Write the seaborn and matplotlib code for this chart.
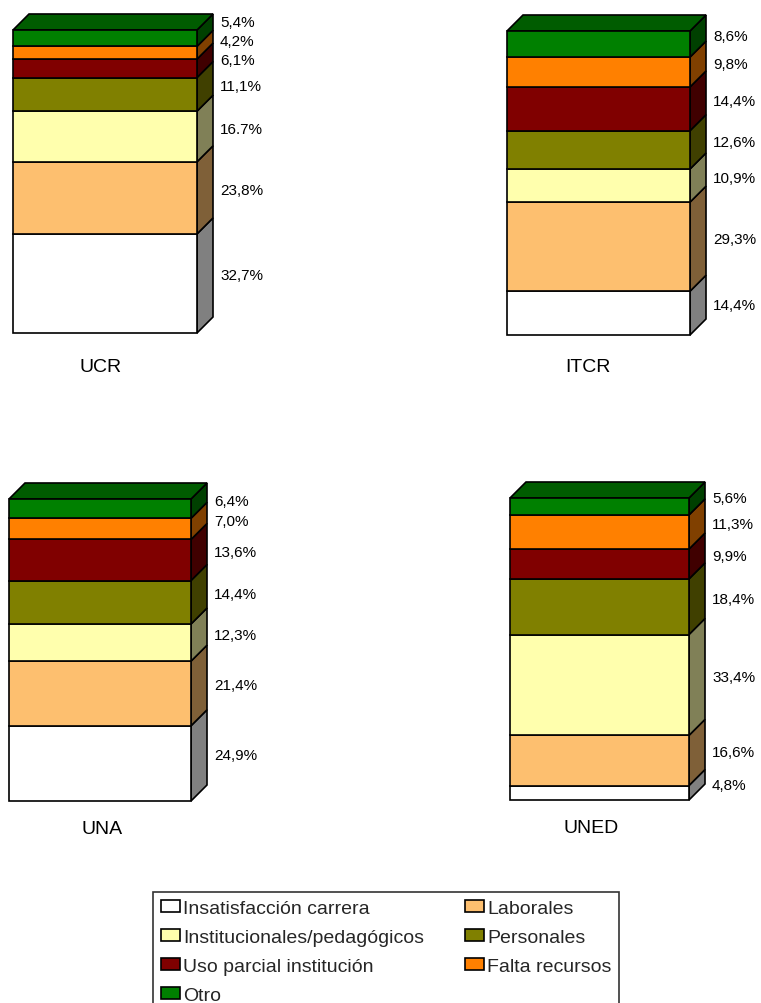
import numpy as np
import matplotlib
matplotlib.use("Agg")
import matplotlib.pyplot as plt
import matplotlib.colors as mcolors
from matplotlib.patches import Polygon, Patch
import seaborn as sns

# ── Data ────────────────────────────────────────────────────
categories = ["Insatisfacción carrera", "Laborales", "Institucionales/pedagógicos",
              "Personales", "Uso parcial institución", "Falta recursos", "Otro"]
colors = ["#FFFFFF", "#FDBF6F", "#FFFFAD", "#808000", "#800000", "#FF8000", "#008000"]

universities = ["UCR", "ITCR", "UNA", "UNED"]
ucr = [32.7, 23.8, 16.7, 11.1, 6.1, 4.2, 5.4]
itcr = [14.4, 29.3, 10.9, 12.6, 14.4, 9.8, 8.6]
una = [24.9, 21.4, 12.3, 14.4, 13.6, 7.0, 6.4]
uned = [4.8, 16.6, 33.4, 18.4, 9.9, 11.3, 5.6]

ucr_labels = ["32,7%", "23,8%", "16.7%", "11,1%", "6,1%", "4,2%", "5,4%"]
itcr_labels = ["14,4%", "29,3%", "10,9%", "12,6%", "14,4%", "9,8%", "8,6%"]
una_labels = ["24,9%", "21,4%", "12,3%", "14,4%", "13,6%", "7,0%", "6,4%"]
uned_labels = ["4,8%", "16,6%", "33,4%", "18,4%", "9,9%", "11,3%", "5,6%"]

# ── Style ───────────────────────────────────────────────────
sns.set_style("white")
plt.rcParams["font.family"] = ["Liberation Sans", "DejaVu Sans"]

W, H = 761, 1004
fig = plt.figure(figsize=(W / 100, H / 100), dpi=100)

# panel rects in pixels: left, top, width, height (front face of bar)
panels = {
    "UCR": (13, 31, 184, 303),
    "ITCR": (507, 32, 183, 304),
    "UNA": (9, 500, 182, 302),
    "UNED": (510, 499, 179, 302),
}
# name label offset from bar bottom-centre, px (x, below)
name_off = {"UCR": (-4, 34), "ITCR": (-11, 32), "UNA": (2, 28), "UNED": (-8, 28)}
series = {"UCR": (ucr, ucr_labels), "ITCR": (itcr, itcr_labels),
          "UNA": (una, una_labels), "UNED": (uned, uned_labels)}

DEPTH = 16   # px
GAP = 19     # min px between value labels
LW = 1.2


def shade(c, f):
    r, g, b = mcolors.to_rgb(c)
    return (r * f, g * f, b * f)


for name in universities:
    left, top, w, h = panels[name]
    vals, labs = series[name]
    ax = fig.add_axes([left / W, 1 - (top + h) / H, w / W, h / H])
    ax.set_xlim(0, 1)
    ax.set_ylim(0, 100)
    ax.axis("off")

    dx = DEPTH / w
    ppp = h / 100.0          # px per percent
    dy = DEPTH / ppp

    bottoms = np.concatenate([[0], np.cumsum(vals)[:-1]])
    ax.bar(0.5, vals, width=1.0, bottom=bottoms, color=colors,
           edgecolor="black", linewidth=LW, clip_on=False, zorder=3)

    # side faces
    for v, b, c in zip(vals, bottoms, colors):
        t = b + v
        side = Polygon([(1, b), (1 + dx, b + dy), (1 + dx, t + dy), (1, t)],
                       closed=True, facecolor=shade(c, 0.5), edgecolor="black",
                       linewidth=LW, clip_on=False, zorder=2)
        ax.add_patch(side)
    # top face
    t = bottoms[-1] + vals[-1]
    topface = Polygon([(0, t), (dx, t + dy), (1 + dx, t + dy), (1, t)],
                      closed=True, facecolor=shade(colors[-1], 0.72),
                      edgecolor="black", linewidth=LW, clip_on=False, zorder=2)
    ax.add_patch(topface)

    # value labels: side-face centres, pushed apart bottom-up
    ys = [b + v / 2 + dy / 2 for v, b in zip(vals, bottoms)]
    min_gap = GAP / ppp
    for i in range(1, len(ys)):
        if ys[i] < ys[i - 1] + min_gap:
            ys[i] = ys[i - 1] + min_gap
    xl = 1 + dx + 7 / w
    for y, lab in zip(ys, labs):
        ax.text(xl, y, lab, ha="left", va="center", fontsize=11,
                color="black", clip_on=False)

    ox, oy = name_off[name]
    ax.text(0.5 + ox / w, -oy / ppp, name, ha="center", va="center",
            fontsize=14, color="black", clip_on=False)

# ── Legend ──────────────────────────────────────────────────
handles = [Patch(facecolor=c, edgecolor="black", linewidth=LW, label=l)
           for c, l in zip(colors, categories)]
order = [0, 2, 4, 6, 1, 3, 5]
leg = fig.legend([handles[i] for i in order], [categories[i] for i in order],
                 loc="upper left", bbox_to_anchor=(153 / W, 1 - 893 / H),
                 bbox_transform=fig.transFigure, ncol=2, fontsize=14,
                 frameon=True, fancybox=False, borderaxespad=0, borderpad=0.4,
                 handlelength=1.0, handleheight=0.6, handletextpad=0.15,
                 columnspacing=2.1, labelspacing=0.62)
leg.get_frame().set_edgecolor("black")
leg.get_frame().set_linewidth(LW)

fig.savefig("out.png", dpi=100)
plt.close(fig)
